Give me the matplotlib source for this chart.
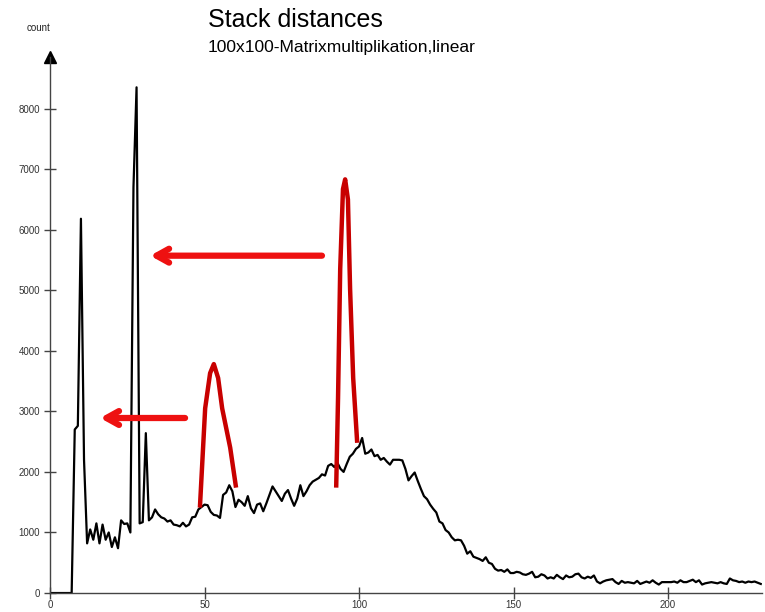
import matplotlib
matplotlib.use("Agg")
import matplotlib.pyplot as plt
import numpy as np

plt.rcParams['font.family'] = ['Liberation Sans', 'DejaVu Sans']

# stack distance histogram (distance -> count)
counts = [
    0, 0, 0, 0, 0, 0, 0, 0, 2700, 2760,            # 0-9
    6180, 2200, 820, 1050, 880, 1150, 820, 1130, 880, 1000,   # 10-19
    760, 920, 740, 1200, 1140, 1150, 1000, 6700, 8350, 1150,  # 20-29
    1170, 2640, 1200, 1250, 1380, 1300, 1250, 1230, 1180, 1200,  # 30-39
    1130, 1120, 1100, 1160, 1100, 1130, 1250, 1260, 1380, 1420,  # 40-49
    1460, 1450, 1340, 1290, 1280, 1240, 1620, 1660, 1780, 1680,  # 50-59
    1420, 1540, 1500, 1440, 1600, 1400, 1320, 1460, 1480, 1350,  # 60-69
    1480, 1620, 1760, 1680, 1600, 1520, 1640, 1700, 1560, 1440,  # 70-79
    1560, 1780, 1600, 1680, 1780, 1840, 1870, 1900, 1960, 1940,  # 80-89
    2100, 2130, 2080, 2150, 2050, 2000, 2130, 2250, 2300, 2380,  # 90-99
    2420, 2560, 2300, 2320, 2370, 2260, 2280, 2200, 2230, 2170,  # 100-109
    2120, 2200, 2200, 2200, 2190, 2050, 1860, 1930, 1990, 1850,  # 110-119
    1720, 1600, 1550, 1460, 1390, 1330, 1180, 1150, 1040, 1000,  # 120-129
    920, 870, 880, 870, 780, 650, 690, 600, 580, 560,            # 130-139
    530, 590, 500, 480, 400, 370, 380, 350, 390, 330,            # 140-149
    330, 350, 340, 310, 300, 320, 350, 260, 270, 310,            # 150-159
    290, 240, 260, 240, 300, 260, 230, 290, 260, 270,            # 160-169
    310, 320, 260, 240, 270, 250, 290, 190, 160, 190,            # 170-179
    210, 220, 230, 180, 150, 200, 170, 180, 170, 160,            # 180-189
    200, 150, 170, 190, 170, 210, 170, 140, 180, 180,            # 190-199
    180, 180, 190, 170, 210, 180, 180, 200, 220, 180,            # 200-209
    210, 140, 160, 170, 180, 170, 160, 180, 160, 150,            # 210-219
    240, 210, 200, 180, 190, 170, 190, 180, 190, 170,            # 220-229
    150,
]
distance = np.arange(len(counts))

# hand-drawn red marks
loop1_x = [48.5, 50.2, 51.8, 53.0, 54.4, 55.7, 58.3, 60.2]
loop1_y = [1410, 3050, 3630, 3780, 3550, 3050, 2400, 1740]
loop2_x = [92.6, 93.2, 93.9, 94.8, 95.5, 96.4, 97.1, 98.1, 99.4]
loop2_y = [1740, 3220, 5350, 6670, 6830, 6500, 5020, 3550, 2480]
arrows = [((88, 5570), (32.4, 5570)), ((43.7, 2890), (16.2, 2890))]

fig = plt.figure(figsize=(7.65, 6.12), dpi=100)
ax = fig.add_axes([0.0654, 0.031, 0.9307, 0.8758])

ax.plot(distance, counts, color='black', lw=1.6)

ax.plot(loop1_x, loop1_y, color='#c80000', lw=3.2, solid_capstyle='butt')
ax.plot(loop2_x, loop2_y, color='#c80000', lw=3.2, solid_capstyle='butt')
for (x0, y0), (x1, y1) in arrows:
    ax.annotate('', xy=(x1, y1), xytext=(x0, y0),
                arrowprops=dict(arrowstyle='->,head_length=0.9,head_width=0.5',
                                color='#ee1111', lw=4.5, shrinkA=0, shrinkB=0,
                                capstyle='round', joinstyle='round'))

ax.set_xlim(0, 230.4)
ax.set_ylim(0, 8850)
ax.set_xticks([0, 50, 100, 150, 200])
ax.set_yticks(range(0, 9000, 1000))

for s in ['top', 'right']:
    ax.spines[s].set_visible(False)
for s in ['left', 'bottom']:
    ax.spines[s].set_color('#444444')
    ax.spines[s].set_linewidth(1.0)
ax.tick_params(direction='inout', length=8, width=1, colors='#444444',
               labelsize=7, labelcolor='#333333', pad=1)
ax.tick_params(axis='y', pad=3)

# arrow head on the y axis
ax.plot(0, 1, marker='^', color='black', markersize=8, transform=ax.transAxes,
        clip_on=False)
fig.text(0.05, 0.955, 'count', fontsize=7, ha='center', va='center', color='#222222')

fig.text(0.272, 0.967, 'Stack distances', fontsize=18, ha='left', va='center')
fig.text(0.272, 0.922, '100x100-Matrixmultiplikation,linear', fontsize=12.5,
         ha='left', va='center')

fig.savefig('out.png', dpi=100)
